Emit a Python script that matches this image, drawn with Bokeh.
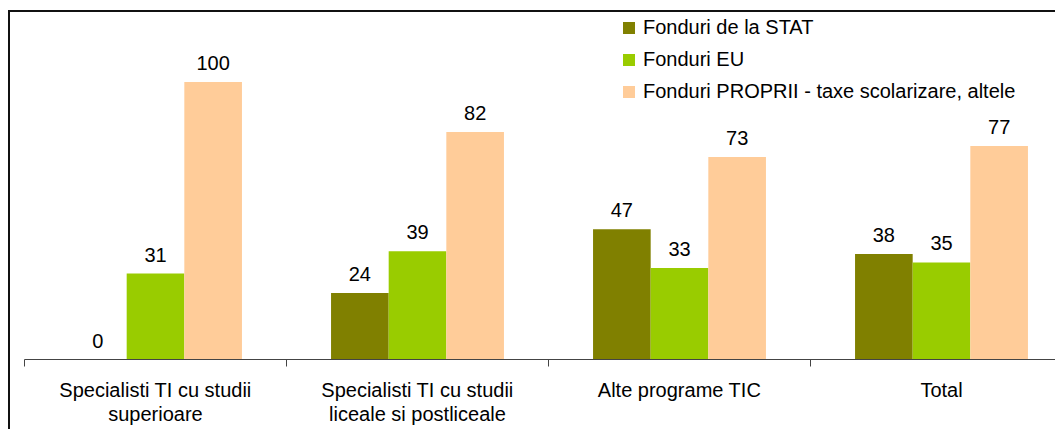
import numpy as np
from bokeh.plotting import figure
from bokeh.models import ColumnDataSource, FixedTicker, Range1d, Legend, LegendItem
from bokeh.core.properties import value
from bokeh.embed import file_html
from bokeh.resources import INLINE

categories = ["Specialisti TI cu studii\nsuperioare",
              "Specialisti TI cu studii\nliceale si postliceale",
              "Alte programe TIC",
              "Total"]
series_names = ["Fonduri de la STAT", "Fonduri EU",
                "Fonduri PROPRII - taxe scolarizare, altele"]
stat_vals = [0, 24, 47, 38]
eu_vals = [31, 39, 33, 35]
proprii_vals = [100, 82, 73, 77]
colors = ["#808000", "#99CC00", "#FFCC99"]

FONT = "Liberation Sans"
FS = "20px"

n = len(categories)
centers = np.arange(n) + 0.5
bounds = np.arange(n).astype(float)
bw = 0.22
offsets = [-bw, 0.0, bw]

FW = 1031
FH = 347
p = figure(frame_width=FW, frame_height=FH, output_backend="svg",
           toolbar_location=None,
           x_range=Range1d(0, FW / 262), y_range=Range1d(0, 125.1),
           min_border_left=14, min_border_right=0, min_border_top=0,
           min_border_bottom=70)
p.styles = {"border-left": "2px solid #111111", "border-top": "2px solid #111111",
            "margin-top": "10px", "margin-left": "8px"}
p.outline_line_color = None
p.xgrid.visible = False
p.ygrid.visible = False
p.yaxis.visible = False

renderers = []
for vals, off, col in zip([stat_vals, eu_vals, proprii_vals], offsets, colors):
    src = ColumnDataSource(dict(x=centers + off, top=vals,
                                lab=[str(v) for v in vals]))
    r = p.vbar(x="x", top="top", width=bw, source=src, fill_color=col,
               line_color=None)
    renderers.append(r)
    p.text(x="x", y="top", text="lab", source=src, text_align="center",
           text_baseline="alphabetic", y_offset=-19,
           text_font=value(FONT), text_font_size=FS, text_color="#000000")

ax = p.xaxis[0]
ax.ticker = FixedTicker(ticks=list(centers), minor_ticks=list(bounds))
ax.major_label_overrides = {float(c): lab for c, lab in zip(centers, categories)}
ax.major_tick_line_color = None
ax.major_tick_out = 0
ax.major_tick_in = 0
ax.minor_tick_line_color = "#444444"
ax.minor_tick_out = 7
ax.minor_tick_in = 0
ax.axis_line_color = "#444444"
ax.major_label_standoff = 12
ax.major_label_text_line_height = 1.1
ax.major_label_text_font = FONT
ax.major_label_text_font_size = FS
ax.major_label_text_color = "#000000"

legend = Legend(items=[LegendItem(label=nm, renderers=[r])
                       for nm, r in zip(series_names, renderers)],
                location=(597, 256))
legend.padding = 0
legend.margin = 0
legend.border_line_color = None
legend.background_fill_alpha = 0
legend.glyph_width = 15
legend.glyph_height = 15
legend.label_height = 20
legend.spacing = 9
legend.label_standoff = 7
legend.label_text_font = FONT
legend.label_text_font_size = FS
legend.label_text_color = "#000000"
p.add_layout(legend)

open("out.html", "w").write(file_html(p, INLINE))
